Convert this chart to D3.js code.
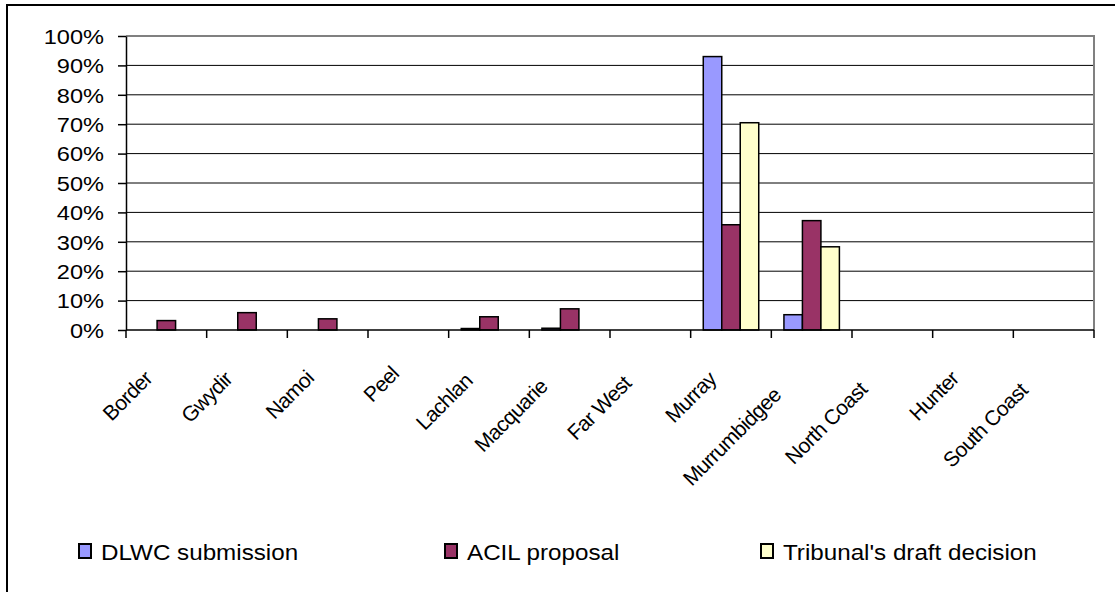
<!DOCTYPE html>
<html>
<head>
<meta charset="utf-8">
<script src="https://cdn.jsdelivr.net/npm/d3@7"></script>
<style>
  html, body { margin: 0; padding: 0; background: #fff; }
  svg { display: block; font-family: "Liberation Sans", Arial, sans-serif; }
</style>
</head>
<body>
<svg id="chart" width="1115" height="592"></svg>
<script>
// River valleys along the category axis
const categories = ["Border", "Gwydir", "Namoi", "Peel", "Lachlan", "Macquarie",
  "Far West", "Murray", "Murrumbidgee", "North Coast", "Hunter", "South Coast"];

// Share of the total (percent) for each proposal
const seriesNames = ["DLWC submission", "ACIL proposal", "Tribunal's draft decision"];
const dlwc     = [0, 0, 0, 0, 0.5, 0.6, 0, 93.0, 5.2, 0, 0, 0];
const acil     = [3.2, 5.9, 3.8, 0, 4.5, 7.2, 0, 35.8, 37.2, 0, 0, 0];
const tribunal = [0, 0, 0, 0, 0, 0, 0, 70.5, 28.3, 0, 0, 0];
const seriesColors = ["#9999FF", "#993366", "#FFFFCC"];

// Value axis ticks (percent)
const yTicks = [0, 10, 20, 30, 40, 50, 60, 70, 80, 90, 100];

const seriesValues = [dlwc, acil, tribunal];

const svg = d3.select("#chart");
const plot = { left: 126, right: 1094, top: 36, bottom: 330 };

// Outer chart frame
svg.append("rect")
  .attr("x", 7).attr("y", 5)
  .attr("width", 1130).attr("height", 620)
  .attr("fill", "#fff").attr("stroke", "#000").attr("stroke-width", 2);

const x = d3.scaleBand().domain(categories).range([plot.left, plot.right]);
const xInner = d3.scaleBand().domain(seriesNames)
  .range([12.6, x.bandwidth() - 12.6]);
const y = d3.scaleLinear().domain([0, 100]).range([plot.bottom, plot.top]);

// Horizontal gridlines
svg.append("g")
  .selectAll("line")
  .data(yTicks.filter(t => t > 0 && t < 100))
  .join("line")
  .attr("x1", plot.left).attr("x2", plot.right)
  .attr("y1", d => y(d)).attr("y2", d => y(d))
  .attr("stroke", "#000").attr("stroke-width", 1);

// Plot area border (top and right edges)
svg.append("path")
  .attr("d", `M${plot.left},${y(100)}H${plot.right}V${plot.bottom}`)
  .attr("fill", "none").attr("stroke", "#808080").attr("stroke-width", 2);

// Bars
const rows = categories.map((c, i) => ({
  cat: c,
  vals: seriesNames.map((s, k) => ({ s, k, v: seriesValues[k][i] }))
}));

svg.append("g")
  .selectAll("g")
  .data(rows)
  .join("g")
  .attr("transform", d => `translate(${x(d.cat)},0)`)
  .selectAll("rect")
  .data(d => d.vals.filter(v => v.v > 0))
  .join("rect")
  .attr("x", d => xInner(d.s))
  .attr("width", xInner.bandwidth())
  .attr("y", d => y(d.v))
  .attr("height", d => y(0) - y(d.v))
  .attr("fill", d => seriesColors[d.k])
  .attr("stroke", "#000").attr("stroke-width", 1.5);

// Value axis
const yAxis = svg.append("g")
  .attr("transform", `translate(${plot.left},0)`)
  .call(d3.axisLeft(y).tickValues(yTicks).tickSize(8).tickSizeOuter(0)
    .tickFormat(d => d + "%"));
yAxis.select(".domain").attr("stroke", "#000").attr("stroke-width", 1.5);
yAxis.selectAll(".tick line").attr("stroke", "#000").attr("stroke-width", 1.5);
yAxis.selectAll(".tick text")
  .attr("x", 0).attr("dy", "0.36em")
  .attr("transform", "translate(-22,0) scale(1.15,1)")
  .attr("font-size", 20.5).attr("fill", "#000")
  .attr("font-family", "Liberation Sans, Arial, sans-serif");

// Category axis: ticks at band edges
const xAxis = svg.append("g")
  .attr("transform", `translate(0,${plot.bottom})`);
xAxis.append("line")
  .attr("x1", plot.left).attr("x2", plot.right)
  .attr("stroke", "#000").attr("stroke-width", 1.5);
const edges = categories.map(c => x(c)).concat([plot.right]);
xAxis.selectAll("line.tk")
  .data(edges)
  .join("line").attr("class", "tk")
  .attr("x1", d => d).attr("x2", d => d)
  .attr("y1", 0).attr("y2", 8)
  .attr("stroke", "#000").attr("stroke-width", 1.5);

// Rotated category labels; longer labels slide further down-left
xAxis.selectAll("text")
  .data(categories)
  .join("text")
  .attr("text-anchor", "end")
  .attr("font-size", 21)
  .attr("letter-spacing", -0.6)
  .attr("fill", "#000")
  .text(d => d)
  .attr("transform", function (d) {
    const len = this.getComputedTextLength();
    const shift = 0.24 * (len - 60);
    const cx = x(d) + x.bandwidth() / 2 - 13 - shift;
    const cy = 50 + shift;
    return `translate(${cx},${cy}) rotate(-45)`;
  });

// Legend
const legendX = [78, 444, 760];
const legend = svg.append("g").selectAll("g")
  .data(seriesNames)
  .join("g")
  .attr("transform", (d, i) => `translate(${legendX[i]},544)`);
legend.append("rect")
  .attr("x", 1).attr("y", 0).attr("width", 12).attr("height", 14)
  .attr("fill", (d, i) => seriesColors[i])
  .attr("stroke", "#000").attr("stroke-width", 2);
legend.append("text")
  .attr("transform", "translate(23,16) scale(1.1,1)")
  .attr("font-size", 22)
  .attr("fill", "#000")
  .text(d => d);
</script>
</body>
</html>
